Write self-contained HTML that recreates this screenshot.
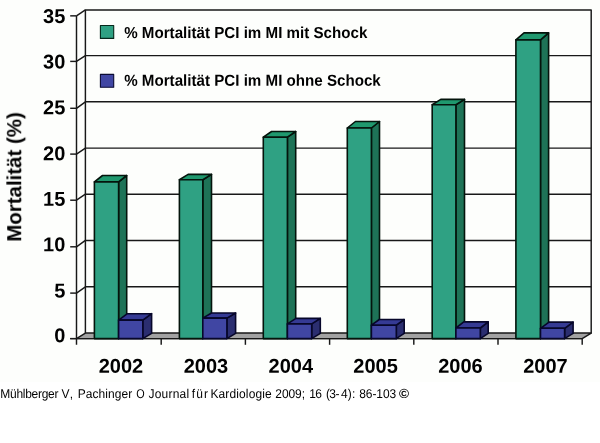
<!DOCTYPE html>
<html><head><meta charset="utf-8"><title>Chart</title>
<style>html,body{margin:0;padding:0;background:#ffffff;}body{width:600px;height:443px;position:relative;overflow:hidden;font-family:"Liberation Sans",sans-serif;}</style>
</head><body>
<svg width="600" height="443" viewBox="0 0 600 443" style="position:absolute;left:0;top:0;will-change:transform">
<rect x="0" y="0" width="600" height="443" fill="#ffffff"/>
<rect x="0" y="0" width="600" height="382" fill="#fdfefc"/>
<g stroke="#181818" stroke-width="1.45" fill="none" stroke-linejoin="round" stroke-linecap="butt">
<rect x="85.4" y="9.9" width="505.8" height="323.2" fill="#fdfefc"/>
<path d="M76.5,293.1 L85.4,286.8 L591.2,286.8"/>
<path d="M76.5,246.8 L85.4,240.4 L591.2,240.4"/>
<path d="M76.5,200.2 L85.4,194.2 L591.2,194.2"/>
<path d="M76.5,154.1 L85.4,148.1 L591.2,148.1"/>
<path d="M76.5,108.3 L85.4,101.8 L591.2,101.8"/>
<path d="M76.5,61.4 L85.4,55.6 L591.2,55.6"/>
<path d="M76.5,15.85 L85.4,9.9"/>
<path d="M76.5,338.6 L85.4,333.1 L591.2,333.1 L582.2,338.6 Z" fill="#a2a2a2"/>
<path d="M76.5,15.85 L76.5,344.8"/>
<path d="M70.2,338.6 L76.5,338.6"/>
<path d="M70.2,293.1 L76.5,293.1"/>
<path d="M70.2,246.8 L76.5,246.8"/>
<path d="M70.2,200.2 L76.5,200.2"/>
<path d="M70.2,154.1 L76.5,154.1"/>
<path d="M70.2,108.3 L76.5,108.3"/>
<path d="M70.2,61.4 L76.5,61.4"/>
<path d="M70.2,15.85 L76.5,15.85"/>
<path d="M70.2,338.6 L582.2,338.6"/>
<path d="M161.2,338.6 L161.2,344.8"/>
<path d="M245.4,338.6 L245.4,344.8"/>
<path d="M329.6,338.6 L329.6,344.8"/>
<path d="M413.8,338.6 L413.8,344.8"/>
<path d="M498.0,338.6 L498.0,344.8"/>
<path d="M582.2,338.6 L582.2,344.8"/>
</g>
<g stroke-width="1.6" fill="none" stroke-linejoin="round">
<g stroke="#04140c">
<path d="M118.6,181.9 L126.7,175.5 L126.7,333.4 L118.6,338.6 Z" fill="#1e7357"/>
<path d="M94.4,181.9 L102.5,175.5 L126.7,175.5 L118.6,181.9 Z" fill="#1f986e"/>
<rect x="94.4" y="181.9" width="24.2" height="156.7" fill="#2fa183"/>
</g>
<g stroke="#07072a">
<path d="M142.8,320.1 L151.6,313.7 L151.6,333.4 L142.8,338.6 Z" fill="#2b2e70"/>
<path d="M118.6,320.1 L127.4,313.7 L151.6,313.7 L142.8,320.1 Z" fill="#353a94"/>
<rect x="118.6" y="320.1" width="24.2" height="18.5" fill="#4046a3"/>
</g>
<g stroke="#04140c">
<path d="M202.8,179.7 L211.5,174.4 L211.5,333.4 L202.8,338.6 Z" fill="#1e7357"/>
<path d="M179.4,179.7 L188.1,174.4 L211.5,174.4 L202.8,179.7 Z" fill="#1f986e"/>
<rect x="179.4" y="179.7" width="23.4" height="158.9" fill="#2fa183"/>
</g>
<g stroke="#07072a">
<path d="M226.9,318.1 L235.6,313.0 L235.6,333.4 L226.9,338.6 Z" fill="#2b2e70"/>
<path d="M202.8,318.1 L211.5,313.0 L235.6,313.0 L226.9,318.1 Z" fill="#353a94"/>
<rect x="202.8" y="318.1" width="24.1" height="20.5" fill="#4046a3"/>
</g>
<g stroke="#04140c">
<path d="M287.4,137.2 L295.7,131.5 L295.7,333.4 L287.4,338.6 Z" fill="#1e7357"/>
<path d="M263.3,137.2 L271.6,131.5 L295.7,131.5 L287.4,137.2 Z" fill="#1f986e"/>
<rect x="263.3" y="137.2" width="24.1" height="201.4" fill="#2fa183"/>
</g>
<g stroke="#07072a">
<path d="M311.7,323.9 L320.3,318.4 L320.3,333.4 L311.7,338.6 Z" fill="#2b2e70"/>
<path d="M287.4,323.9 L296.0,318.4 L320.3,318.4 L311.7,323.9 Z" fill="#353a94"/>
<rect x="287.4" y="323.9" width="24.3" height="14.7" fill="#4046a3"/>
</g>
<g stroke="#04140c">
<path d="M371.4,128.0 L379.5,121.5 L379.5,333.4 L371.4,338.6 Z" fill="#1e7357"/>
<path d="M347.3,128.0 L355.4,121.5 L379.5,121.5 L371.4,128.0 Z" fill="#1f986e"/>
<rect x="347.3" y="128.0" width="24.1" height="210.6" fill="#2fa183"/>
</g>
<g stroke="#07072a">
<path d="M396.3,325.2 L404.2,319.5 L404.2,333.4 L396.3,338.6 Z" fill="#2b2e70"/>
<path d="M371.4,325.2 L379.3,319.5 L404.2,319.5 L396.3,325.2 Z" fill="#353a94"/>
<rect x="371.4" y="325.2" width="24.9" height="13.4" fill="#4046a3"/>
</g>
<g stroke="#04140c">
<path d="M455.9,104.7 L464.5,99.4 L464.5,333.4 L455.9,338.6 Z" fill="#1e7357"/>
<path d="M432.2,104.7 L440.8,99.4 L464.5,99.4 L455.9,104.7 Z" fill="#1f986e"/>
<rect x="432.2" y="104.7" width="23.7" height="233.9" fill="#2fa183"/>
</g>
<g stroke="#07072a">
<path d="M480.3,328.0 L488.2,321.9 L488.2,333.4 L480.3,338.6 Z" fill="#2b2e70"/>
<path d="M455.9,328.0 L463.8,321.9 L488.2,321.9 L480.3,328.0 Z" fill="#353a94"/>
<rect x="455.9" y="328.0" width="24.4" height="10.6" fill="#4046a3"/>
</g>
<g stroke="#04140c">
<path d="M540.5,39.9 L548.6,32.9 L548.6,333.4 L540.5,338.6 Z" fill="#1e7357"/>
<path d="M515.9,39.9 L524.0,32.9 L548.6,32.9 L540.5,39.9 Z" fill="#1f986e"/>
<rect x="515.9" y="39.9" width="24.6" height="298.7" fill="#2fa183"/>
</g>
<g stroke="#07072a">
<path d="M564.6,328.3 L573.1,322.1 L573.1,333.4 L564.6,338.6 Z" fill="#2b2e70"/>
<path d="M540.5,328.3 L549.0,322.1 L573.1,322.1 L564.6,328.3 Z" fill="#353a94"/>
<rect x="540.5" y="328.3" width="24.1" height="10.3" fill="#4046a3"/>
</g>
<rect x="100.4" y="25.5" width="13.3" height="12.9" fill="#2fa183" stroke-width="1.1" stroke="#06281b"/>
<rect x="100.4" y="74.4" width="13.3" height="12.9" fill="#4046a3" stroke-width="1.1" stroke="#0b0b33"/>
</g>
<g font-family="Liberation Sans, sans-serif" font-weight="bold" fill="#000" opacity="0.999" text-rendering="geometricPrecision">
<text transform="translate(65.3,342.30) rotate(0.05)" font-size="20" text-anchor="end">0</text>
<text transform="translate(65.3,297.40) rotate(0.05)" font-size="20" text-anchor="end">5</text>
<text transform="translate(65.3,251.30) rotate(0.05)" font-size="20" text-anchor="end">10</text>
<text transform="translate(65.3,205.65) rotate(0.05)" font-size="20" text-anchor="end">15</text>
<text transform="translate(65.3,160.15) rotate(0.05)" font-size="20" text-anchor="end">20</text>
<text transform="translate(65.3,114.35) rotate(0.05)" font-size="20" text-anchor="end">25</text>
<text transform="translate(65.3,68.40) rotate(0.05)" font-size="20" text-anchor="end">30</text>
<text transform="translate(65.3,23.10) rotate(0.05)" font-size="20" text-anchor="end">35</text>
<text transform="translate(121.0,372.8) rotate(0.05)" font-size="20" text-anchor="middle">2002</text>
<text transform="translate(205.9,372.8) rotate(0.05)" font-size="20" text-anchor="middle">2003</text>
<text transform="translate(290.8,372.8) rotate(0.05)" font-size="20" text-anchor="middle">2004</text>
<text transform="translate(375.6,372.8) rotate(0.05)" font-size="20" text-anchor="middle">2005</text>
<text transform="translate(460.5,372.8) rotate(0.05)" font-size="20" text-anchor="middle">2006</text>
<text transform="translate(545.4,372.8) rotate(0.05)" font-size="20" text-anchor="middle">2007</text>
<text transform="translate(124.2,37.95) rotate(0.03) scale(1,1.05)" font-size="15.15">% Mortalität PCI im MI mit Schock</text>
<text transform="translate(124.2,85.65) rotate(0.03) scale(1,1.05)" font-size="15.15">% Mortalität PCI im MI ohne Schock</text>
<text transform="translate(21.2,241.7) rotate(-90)" font-size="20.45">Mortalität (%)</text>
</g>
<filter id="gf" x="-0.02" y="-0.3" width="1.04" height="1.6"><feOffset dx="0" dy="0"/></filter>
<g filter="url(#gf)" font-family="Liberation Sans, sans-serif" font-size="12" fill="#000" text-rendering="geometricPrecision">
<rect x="0" y="385" width="412" height="15" fill="#ffffff"/>
<text transform="translate(0.28,397.85) rotate(0.02) scale(1,1.06)" letter-spacing="-0.284">Mühlberger</text>
<text transform="translate(61.54,397.85) rotate(0.02) scale(1,1.06)" letter-spacing="1.2">V,</text>
<text transform="translate(77.7,397.85) rotate(0.02) scale(1,1.06)" letter-spacing="0.062">Pachinger</text>
<text transform="translate(136.14,397.85) rotate(0.02) scale(0.902,1.06)" letter-spacing="0">O</text>
<text transform="translate(148.56,397.85) rotate(0.02) scale(1,1.06)" letter-spacing="0.191">Journal</text>
<text transform="translate(191.71,397.85) rotate(0.02) scale(1,1.06)" letter-spacing="1.096">für</text>
<text transform="translate(210.4,397.85) rotate(0.02) scale(1,1.06)" letter-spacing="0.129">Kardiologie</text>
<text transform="translate(275.37,397.85) rotate(0.02) scale(1,1.06)" letter-spacing="-0.093">2009;</text>
<text transform="translate(309.13,397.85) rotate(0.02) scale(1,1.06)" letter-spacing="-0.6">16</text>
<text transform="translate(325.93,397.85) rotate(0.02) scale(1,1.06)" letter-spacing="-0.6">(3-</text>
<text transform="translate(341.08,397.85) rotate(0.02) scale(1,1.06)" letter-spacing="0.121">4):</text>
<text transform="translate(359.14,397.85) rotate(0.02) scale(1,1.06)" letter-spacing="-0.049">86-103</text>
<text transform="translate(398.88,397.95000000000005) scale(1.1362800000000002,1.1)" font-weight="bold" stroke="none">©</text>
</g>
</svg>
</body></html>
